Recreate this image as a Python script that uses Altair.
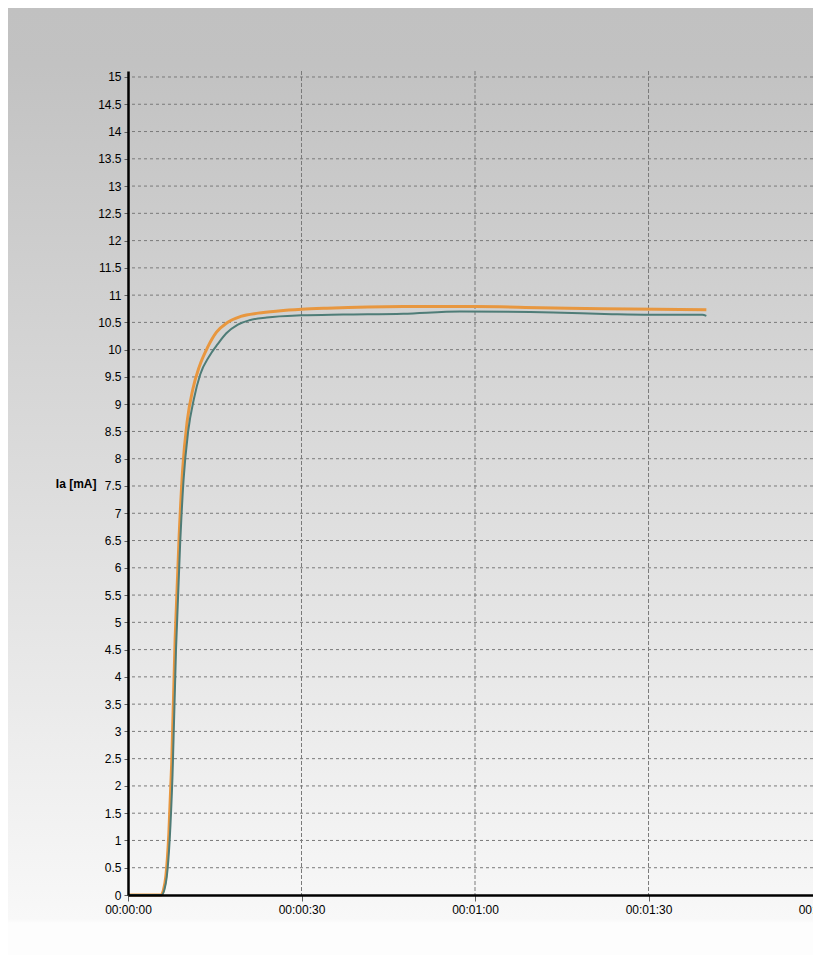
import altair as alt
import pandas as pd

# ---- data ----
teal_t = [0, 5.8, 6.3, 6.7, 7.2, 7.7, 8.3, 9.0, 9.6, 10.4, 11.4, 12.5, 14.0, 15.5, 17.0,
          19.0, 21.0, 24.0, 30.0, 37.2, 47.6, 57.4, 73.5, 83.7, 90.3, 99.3, 100.0]
teal_v = [0, 0, 0.1, 0.33, 1.0, 2.2, 4.5, 6.4, 7.6, 8.5, 9.1, 9.55, 9.87, 10.1, 10.3,
          10.46, 10.54, 10.59, 10.63, 10.645, 10.66, 10.70, 10.68, 10.65, 10.64, 10.64, 10.62]

orange_t = [0, 5.7, 6.15, 6.55, 7.05, 7.55, 8.15, 8.85, 9.45, 10.25, 11.2, 12.3, 13.8,
            15.3, 17.2, 19.5, 22.5, 26.0, 30.0, 34.4, 47.6, 60.0, 71.2, 82.0, 91.5, 100.0]
orange_v = [0, 0, 0.1, 0.35, 1.1, 2.4, 4.7, 6.6, 7.8, 8.7, 9.27, 9.68, 10.05,
            10.32, 10.5, 10.61, 10.67, 10.71, 10.74, 10.76, 10.79, 10.79, 10.77, 10.75, 10.74, 10.73]

y_ticks = [i * 0.5 for i in range(31)]
x_ticks = [0, 30, 60, 90, 120]

W, H = 685, 824
PAD = {"left": 120, "top": 63, "right": 0, "bottom": 60}
X_MAX = 118.44
Y_MAX = 15.11

xs = alt.Scale(domain=[0, X_MAX], nice=False, zero=False)
ys = alt.Scale(domain=[0, Y_MAX], nice=False)

time_expr = ("'00:0' + floor(datum.value/60) + ':' + "
             "(datum.value % 60 < 10 ? '0' : '') + (datum.value % 60)")

x_axis = alt.Axis(values=x_ticks, labelExpr=time_expr, grid=False, title=None,
                  domainColor="#000000", domainWidth=2.5,
                  tickColor="#606060", tickSize=6, tickWidth=1,
                  labelPadding=3, labelFontSize=12, labelColor="#000000",
                  labelFont="Liberation Sans", labelFlush=False,
                  labelOverlap=False, zindex=1)
y_axis = alt.Axis(values=y_ticks, format=".1~f", grid=False,
                  title="Ia [mA]", titleAngle=0, titleAlign="right",
                  titleBaseline="middle", titleX=-32, titleY=412,
                  titleFont="Liberation Sans", titleFontSize=12,
                  titleFontWeight="bold", titleColor="#000000",
                  domainColor="#000000", domainWidth=2.5,
                  tickColor="#606060", tickSize=4, tickWidth=1,
                  labelPadding=3, labelFontSize=12, labelColor="#000000",
                  labelFont="Liberation Sans", labelFlush=False,
                  labelOverlap=False, zindex=1)

X = alt.X("t:Q", scale=xs, axis=x_axis, title=None)
Y = alt.Y("v:Q", scale=ys, axis=y_axis, title="Ia [mA]")

# background gradient
bg = alt.Chart(pd.DataFrame({"a": [0]})).mark_rect(
    clip=False,
    color=alt.LinearGradient(
        gradient="linear", x1=0, x2=0, y1=0, y2=1,
        stops=[
            alt.GradientStop(color="#c1c1c1", offset=0.0),
            alt.GradientStop(color="#c2c2c2", offset=0.06),
            alt.GradientStop(color="#f8f8f8", offset=0.962),
            alt.GradientStop(color="#fdfdfd", offset=0.966),
            alt.GradientStop(color="#fdfdfd", offset=1.0),
        ],
    ),
).encode(
    x=alt.value(-PAD["left"]), x2=alt.value(W + PAD["right"]),
    y=alt.value(-PAD["top"]), y2=alt.value(H + PAD["bottom"]),
)

hgrid = alt.Chart(pd.DataFrame({"v": y_ticks[1:]})).mark_rule(
    color="#7a7a7a", strokeWidth=1, strokeDash=[3, 3]
).encode(y=Y)

vgrid = alt.Chart(pd.DataFrame({"t": [t for t in x_ticks if 0 < t <= X_MAX]})).mark_rule(
    color="#7a7a7a", strokeWidth=1, strokeDash=[4, 2]
).encode(x=X)

orange = alt.Chart(pd.DataFrame({"t": orange_t, "v": orange_v})).mark_line(
    color="#e8973f", strokeWidth=3, strokeJoin="round", interpolate="monotone"
).encode(x=X, y=Y)

teal = alt.Chart(pd.DataFrame({"t": teal_t, "v": teal_v})).mark_line(
    color="#4e7c77", strokeWidth=2, strokeJoin="round", interpolate="monotone"
).encode(x=X, y=Y)

cut_label = alt.Chart(pd.DataFrame({"t": [120], "v": [0], "s": ["00:02:00"]})).mark_text(
    font="Liberation Sans", fontSize=12, color="#000000", baseline="top",
    dy=10, clip=False
).encode(x=X, y=Y, text="s:N")

chart = alt.layer(bg, hgrid, vgrid, orange, teal, cut_label).properties(
    width=W, height=H, padding=PAD,
    autosize=alt.AutoSizeParams(type="none"),
).configure_view(stroke=None, fill=None).configure(background="#ffffff")

chart.save("out.html", embed_options={"renderer": "svg", "actions": False})
